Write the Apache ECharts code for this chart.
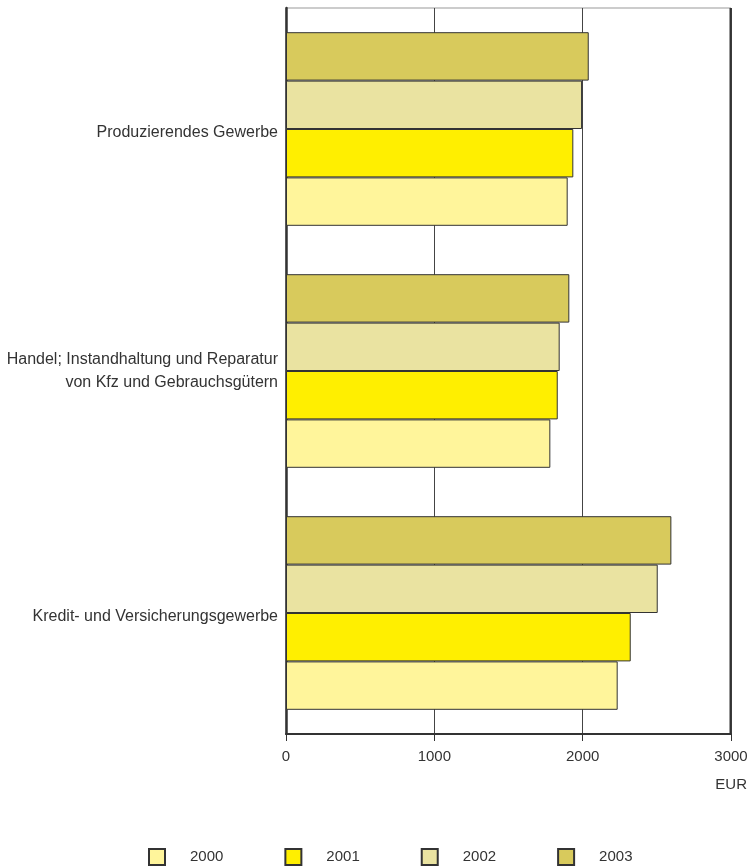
<!DOCTYPE html>
<html>
<head>
<meta charset="utf-8">
<script src="https://cdn.jsdelivr.net/npm/echarts@6/dist/echarts.min.js"></script>
<style>
  html, body { margin: 0; padding: 0; background: #fff; }
  #chart { width: 751px; height: 866px; }
</style>
</head>
<body>
<div id="chart"></div>
<script>
// Branchen (von oben nach unten)
var categories = [
  'Produzierendes Gewerbe',
  'Handel; Instandhaltung und Reparatur\nvon Kfz und Gebrauchsgütern',
  'Kredit- und Versicherungsgewerbe'
];
var years = ['2000', '2001', '2002', '2003'];
var values2000 = [1899, 1782, 2236];
var values2001 = [1937, 1832, 2324];
var values2002 = [1996, 1845, 2506];
var values2003 = [2041, 1910, 2598];
var colors = ['#fff59b', '#ffef00', '#eae3a1', '#d8ca5c'];
var xTicks = [0, 1000, 2000, 3000];

var allValues = [values2000, values2001, values2002, values2003];
var font = "'Liberation Sans', Arial, Helvetica, sans-serif";

var chart = echarts.init(document.getElementById('chart'));

// 2003 oben, 2000 unten -> Serien rückwärts anlegen
var series = [];
for (var i = years.length - 1; i >= 0; i--) {
  series.push({
    name: years[i],
    type: 'bar',
    data: allValues[i],
    barCategoryGap: '20%',
    barGap: 0,
    itemStyle: { color: colors[i], borderColor: '#333', borderWidth: 1 },
    emphasis: { disabled: true }
  });
}

var labelStyle = { fontFamily: font, fontSize: 16, color: '#333', lineHeight: 23, align: 'right' };

var option = {
  animation: false,
  grid: {
    left: 286, right: 20, top: 8, bottom: 132,
    show: true, borderColor: '#999', borderWidth: 1
  },
  xAxis: {
    type: 'value',
    min: xTicks[0], max: xTicks[xTicks.length - 1], interval: 1000,
    axisLine: { show: true, lineStyle: { color: '#333', width: 2 } },
    axisTick: { show: true, length: 7, lineStyle: { color: '#333', width: 1 } },
    axisLabel: {
      fontFamily: font, fontSize: 15, color: '#333', margin: 15,
      formatter: function (v) { return String(v); }
    },
    splitLine: { show: true, lineStyle: { color: '#444', width: 1 } }
  },
  yAxis: {
    type: 'category',
    inverse: true,
    data: categories,
    axisLine: { show: true, lineStyle: { color: '#333', width: 2.5 } },
    axisTick: { show: false },
    axisLabel: {
      fontFamily: font, fontSize: 16, color: '#333', margin: 8,
      lineHeight: 23, align: 'right',
      // einzeilige Beschriftung etwas tiefer, wie im Original
      formatter: function (v) {
        var lines = v.split('\n');
        if (lines.length === 1) return '{p|' + v + '}';
        return lines.map(function (line) { return '{a|' + line + '}'; }).join('\n');
      },
      rich: {
        p: Object.assign({ padding: [8, 0, 0, 0] }, labelStyle),
        a: labelStyle
      }
    }
  },
  legend: {
    data: years,
    left: 148, top: 848, padding: 0,
    icon: 'rect', itemWidth: 16, itemHeight: 16, itemGap: 61,
    textStyle: { fontFamily: font, fontSize: 15, color: '#333', padding: [0, 0, 0, 20] }
  },
  graphic: [{
    type: 'text', right: 4, top: 777,
    style: { text: 'EUR', font: "15px 'Liberation Sans', Arial, sans-serif", fill: '#333' }
  }, {
    // rechte Rahmenlinie
    type: 'line', z: 10,
    shape: { x1: 730.5, y1: 8, x2: 730.5, y2: 734 },
    style: { stroke: '#333', lineWidth: 2 }
  }],
  series: series
};

chart.setOption(option);
</script>
</body>
</html>
